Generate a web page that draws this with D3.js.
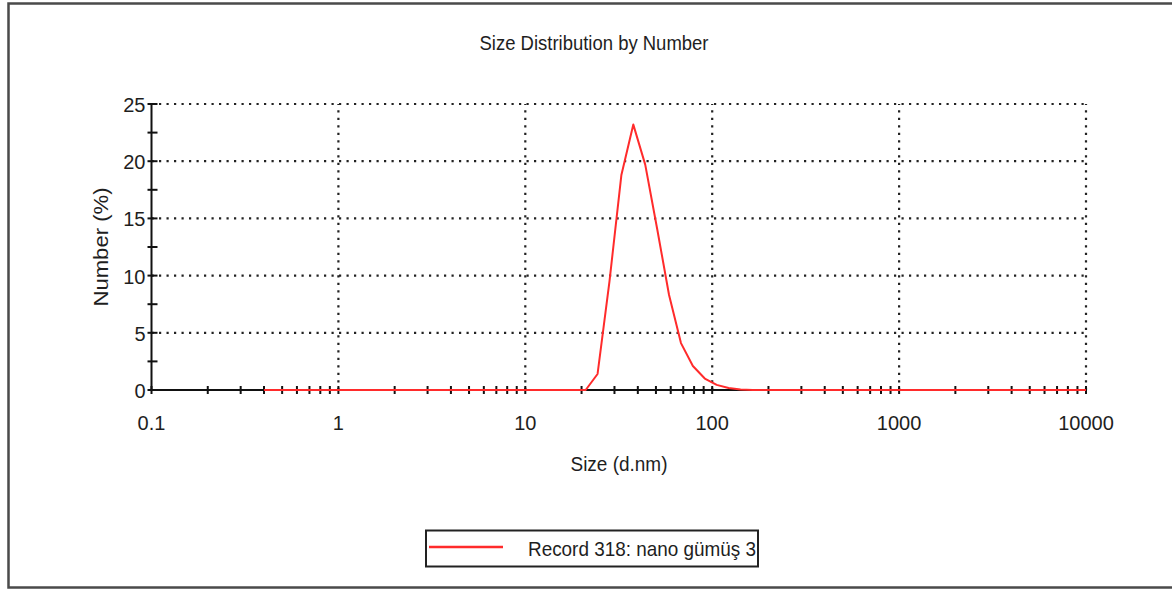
<!DOCTYPE html>
<html lang="tr">
<head>
<meta charset="UTF-8">
<title>Size Distribution by Number</title>
<style>
  html, body { margin: 0; padding: 0; background: #fff; }
  text { font-family: "Liberation Sans", Arial, sans-serif; fill: #1e1e1e; }
</style>
</head>
<body>
<svg width="1172" height="590"></svg>
<script src="https://cdn.jsdelivr.net/npm/d3@7/dist/d3.min.js"></script>
<script>
// size classes (d.nm) and number distribution (%)
const sizes = [0.4, 0.4632, 0.5365, 0.6213, 0.7195, 0.8332, 0.9649,
  1.117, 1.294, 1.499, 1.736, 2.010, 2.328, 2.696, 3.122, 3.615, 4.187, 4.849, 5.615, 6.503, 7.531, 8.721,
  10.10, 11.70, 13.54, 15.69, 18.17, 21.04, 24.36, 28.21, 32.67, 37.84, 43.82, 50.75, 58.77, 68.06, 78.82, 91.28,
  105.7, 122.4, 141.8, 164.2, 190.1, 220.2, 255.0, 295.3, 342.0, 396.1, 458.7, 531.2, 615.1, 712.4, 825.0, 955.4,
  1106, 1281, 1484, 1718, 1990, 2305, 2669, 3091, 3580, 4145, 4801, 5560, 6439, 7456, 8635, 10000]
const number = [0, 0, 0, 0, 0, 0, 0,
  0, 0, 0, 0, 0, 0, 0, 0, 0, 0, 0, 0, 0, 0, 0,
  0, 0, 0, 0, 0, 0, 1.4, 9.5, 18.8, 23.2, 19.7, 14.1, 8.3, 4.1, 2.1, 1.0,
  0.45, 0.18, 0.05, 0, 0, 0, 0, 0, 0, 0, 0, 0, 0, 0, 0, 0,
  0, 0, 0, 0, 0, 0, 0, 0, 0, 0, 0, 0, 0, 0, 0, 0]

const xTicks = [0.1, 1, 10, 100, 1000, 10000]
const xTickLabels = ['0.1', '1', '10', '100', '1000', '10000']
const yTicks = [0, 5, 10, 15, 20, 25]
const yMinor = [2.5, 7.5, 12.5, 17.5, 22.5]

const title = 'Size Distribution by Number'
const xTitle = 'Size (d.nm)'
const yTitle = 'Number (%)'
const legendLabel = 'Record 318: nano gümüş 3'

const svg = d3.select('svg')

const x = d3.scaleLog().domain([0.1, 10000]).range([151.5, 1086])
const y = d3.scaleLinear().domain([0, 25]).range([390, 104])

// outer frame (right side runs off the picture)
svg.append('rect')
  .attr('x', 8.5).attr('y', 3.5)
  .attr('width', 1200).attr('height', 584)
  .attr('fill', 'none').attr('stroke', '#4a4a4a').attr('stroke-width', 2.5)

// title
svg.append('text')
  .attr('x', 594).attr('y', 50)
  .attr('text-anchor', 'middle')
  .attr('font-size', 20)
  .attr('textLength', 229).attr('lengthAdjust', 'spacingAndGlyphs')
  .text(title)

const g = svg.append('g')

// dotted grid
g.selectAll('.hgrid').data(yTicks.filter(d => d > 0)).enter().append('line')
  .attr('x1', x.range()[0]).attr('x2', x.range()[1])
  .attr('y1', d => y(d)).attr('y2', d => y(d))
  .attr('stroke', '#222').attr('stroke-width', 2.2).attr('stroke-dasharray', '2.2 5.3')

g.selectAll('.vgrid').data(xTicks.filter(d => d > 0.1)).enter().append('line')
  .attr('x1', d => x(d)).attr('x2', d => x(d))
  .attr('y1', y(0)).attr('y2', y(25))
  .attr('stroke', '#222').attr('stroke-width', 2.2).attr('stroke-dasharray', '2.2 5.3')

// axes
g.append('line')
  .attr('x1', x(0.1)).attr('x2', x(0.1)).attr('y1', y(0)).attr('y2', y(25))
  .attr('stroke', '#111').attr('stroke-width', 2)
g.append('line')
  .attr('x1', x(0.1)).attr('x2', x(10000)).attr('y1', y(0)).attr('y2', y(0))
  .attr('stroke', '#111').attr('stroke-width', 2)

// y ticks cross the axis
g.selectAll('.ytick').data(yTicks.concat(yMinor)).enter().append('line')
  .attr('x1', x(0.1) - 4).attr('x2', x(0.1) + 6)
  .attr('y1', d => y(d)).attr('y2', d => y(d))
  .attr('stroke', '#111').attr('stroke-width', 2)

// x ticks, 1..9 per decade
g.selectAll('.xtick').data(x.ticks()).enter().append('line')
  .attr('x1', d => x(d)).attr('x2', d => x(d))
  .attr('y1', y(0) - 4).attr('y2', y(0) + 4)
  .attr('stroke', '#111').attr('stroke-width', 2)

// tick labels
g.selectAll('.ylab').data(yTicks).enter().append('text')
  .attr('x', x(0.1) - 6).attr('y', d => y(d) + 8)
  .attr('text-anchor', 'end').attr('font-size', 20)
  .text(d => d)

g.selectAll('.xlab').data(xTicks).enter().append('text')
  .attr('x', d => x(d)).attr('y', 430)
  .attr('text-anchor', 'middle').attr('font-size', 20)
  .text((d, i) => xTickLabels[i])

// axis titles
svg.append('text')
  .attr('x', 619).attr('y', 471)
  .attr('text-anchor', 'middle').attr('font-size', 20)
  .attr('textLength', 97).attr('lengthAdjust', 'spacingAndGlyphs')
  .text(xTitle)

svg.append('text')
  .attr('transform', 'translate(108,247) rotate(-90)')
  .attr('text-anchor', 'middle').attr('font-size', 20)
  .attr('textLength', 119).attr('lengthAdjust', 'spacingAndGlyphs')
  .text(yTitle)

// distribution line
const line = d3.line()
  .x((d, i) => x(sizes[i]))
  .y(d => y(d))

g.append('path')
  .datum(number)
  .attr('d', line)
  .attr('fill', 'none')
  .attr('stroke', '#ff2b2b')
  .attr('stroke-width', 2)
  .attr('stroke-linejoin', 'round')

// legend
const legend = svg.append('g')
legend.append('rect')
  .attr('x', 426).attr('y', 530.5)
  .attr('width', 332).attr('height', 36)
  .attr('fill', '#fff').attr('stroke', '#222').attr('stroke-width', 2)
legend.append('line')
  .attr('x1', 429).attr('x2', 503).attr('y1', 547).attr('y2', 547)
  .attr('stroke', '#ff2b2b').attr('stroke-width', 2.5)
legend.append('text')
  .attr('x', 528).attr('y', 556)
  .attr('font-size', 21)
  .attr('textLength', 228).attr('lengthAdjust', 'spacingAndGlyphs')
  .text(legendLabel)
</script>
</body>
</html>
